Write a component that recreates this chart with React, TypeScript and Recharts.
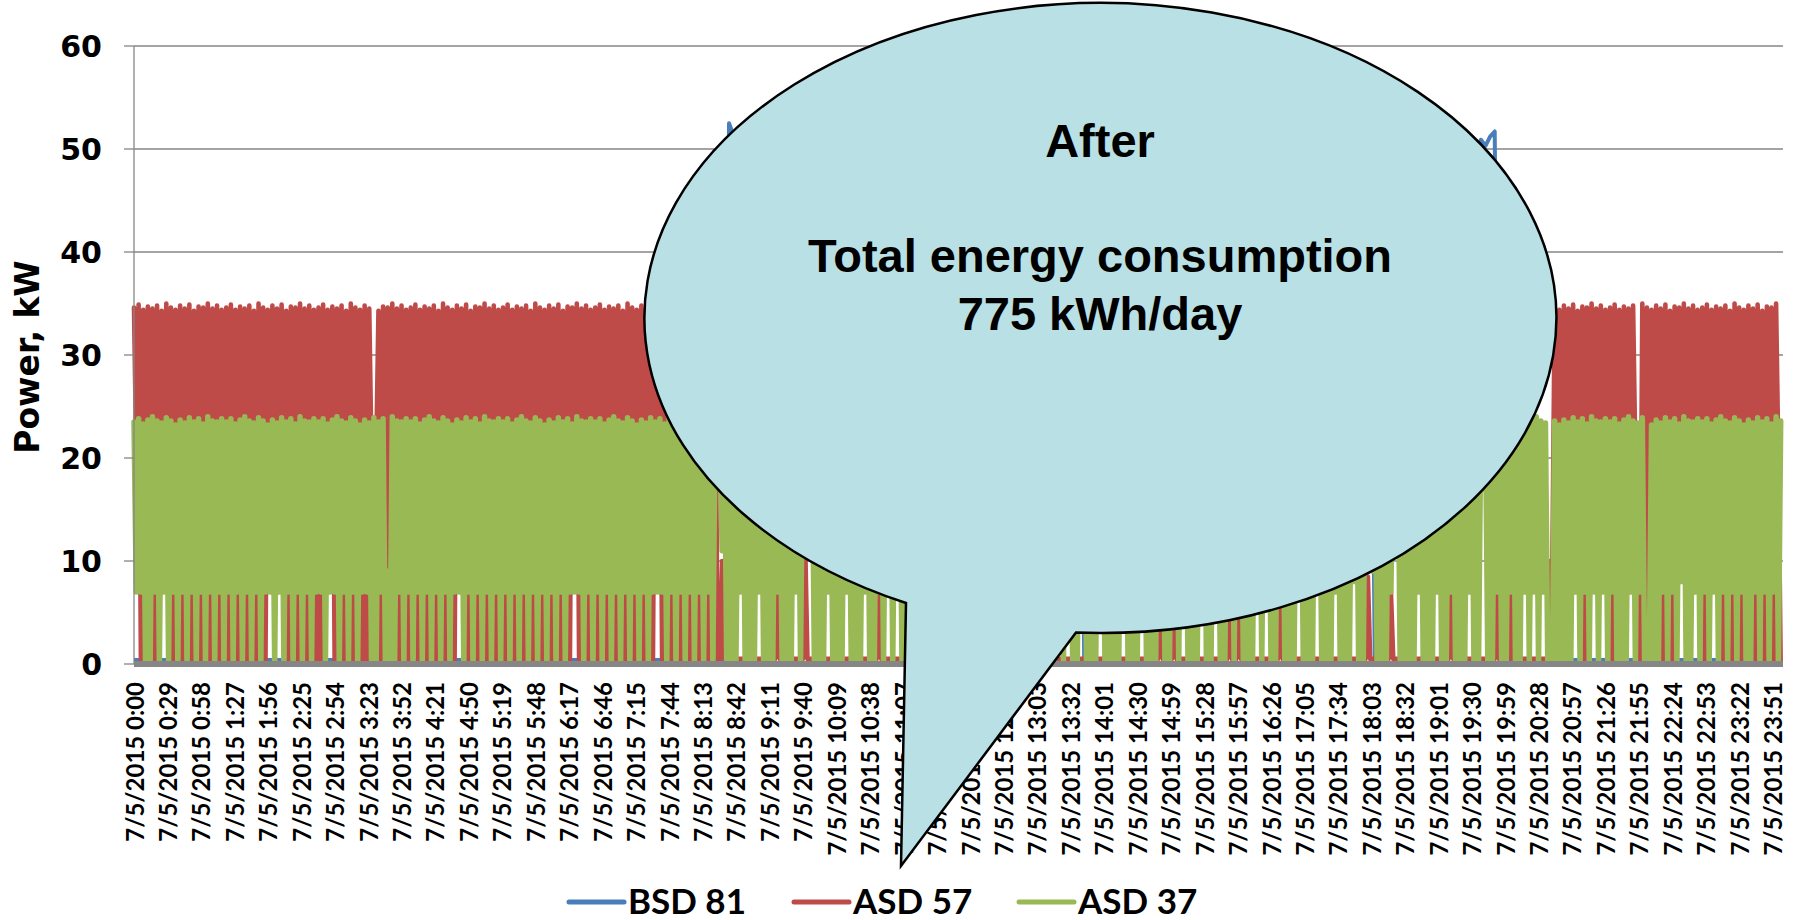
import React from "react";
import { LineChart, Line, XAxis, YAxis, CartesianGrid } from "recharts";

// one reading per category; labels every 29th reading
const DATE_LABEL = "7/5/2015";
const TICK_TIMES = [
  "0:00", "0:29", "0:58", "1:27", "1:56", "2:25", "2:54", "3:23", "3:52", "4:21",
  "4:50", "5:19", "5:48", "6:17", "6:46", "7:15", "7:44", "8:13", "8:42", "9:11",
  "9:40", "10:09", "10:38", "11:07", "11:36", "12:05", "12:34", "13:03", "13:32", "14:01",
  "14:30", "14:59", "15:28", "15:57", "16:26", "17:05", "17:34", "18:03", "18:32", "19:01",
  "19:30", "19:59", "20:28", "20:57", "21:26", "21:55", "22:24", "22:53", "23:22", "23:51",
];
const TICK_STEP = 29;
const LAST_INDEX = 1430;
const Y_TICKS = [0, 10, 20, 30, 40, 50, 60];

// ASD 37 / ASD 57 sampled every 2nd reading
const READING_STEP = 2;
const ASD37 = [
  23.5,7,23.8,7,23.3,0,23.7,0,24,7,23.6,0,23.4,7,23.9,0,23.6,7,23.2,0,
  23.7,7,23.4,0,23.9,7,23.5,0,23.8,7,23.3,0,24,7,23.6,0,23.5,7,23.8,0,
  23.5,7,23.8,0,23.3,7,23.7,0,24,7,23.6,0,23.4,7,23.9,0,23.6,7,23.2,7,
  23.7,0,23.4,7,23.9,0,23.5,7,23.8,0,23.3,7,24,0,23.6,7,23.5,0,23.8,7,
  23.5,7,23.8,0,23.3,7,23.7,7,24,0,23.6,7,23.4,0,23.9,7,23.6,0,23.2,7,
  23.7,7,23.4,0,23.9,0,23.5,7,23.8,0,9,0,24,0,23.6,7,23.5,0,23.8,7,
  23.5,0,23.8,7,23.3,0,23.7,7,24,0,23.6,7,23.4,0,23.9,7,23.6,0,23.2,7,
  23.7,7,23.4,0,23.9,7,23.5,0,23.8,7,23.3,0,24,7,23.6,0,23.5,7,23.8,0,
  23.5,7,23.8,0,23.3,7,23.7,0,24,7,23.6,0,23.4,7,23.9,0,23.6,7,23.2,0,
  23.7,7,23.4,0,23.9,7,23.5,0,23.8,7,23.3,7,24,7,23.6,0,23.5,7,23.8,0,
  23.5,7,23.8,0,23.3,7,23.7,0,24,7,23.6,0,23.4,7,23.9,0,23.6,7,23.2,0,
  23.7,7,23.4,0,23.9,7,23.5,7,23.8,7,23.3,0,24,7,23.6,0,23.5,7,23.8,0,
  23.5,7,23.8,0,23.3,7,23.7,0,24,7,23.6,0,23.4,21,23.9,11,23.6,0,23.2,0,
  23.7,0,23.4,7,23.9,0,23.5,0,23.8,0,23.3,7,24,0,23.6,0,23.5,0,23.8,7,
  23.5,0,23.8,0,23.3,0,23.7,7,24,0,23.6,13,23.4,13,23.9,0,23.6,0,23.2,0,
  23.7,7,23.4,0,23.9,0,23.5,0,23.8,7,23.3,0,24,0,23.6,0,23.5,7,23.8,0,
  23.5,0,23.8,7,23.3,0,23.7,7,24,0,23.6,7,23.4,0,23.9,0,23.6,0,23.2,0,
  23.7,0,23.4,0,23.9,0,23.5,0,23.8,0,23.3,0,24,0,23.6,0,23.5,0,23.8,0,
  23.5,0,23.8,0,23.3,0,23.7,0,24,0,23.6,0,23.4,0,23.9,0,23.6,0,23.2,0,
  23.7,0,23.4,0,23.9,0,23.5,0,23.8,0,23.3,0,24,0,23.6,0,23.5,0,23.8,0,
  23.5,7,23.8,0,23.3,7,23.7,0,24,0,23.6,4,23.4,0,23.9,0,23.6,0,23.2,7,
  23.7,0,23.4,0,23.9,0,23.5,0,23.8,7,23.3,0,24,0,23.6,0,23.5,7,23.8,0,
  23.5,0,23.8,0,23.3,7,23.7,0,24,0,23.6,7,23.4,0,23.9,7,23.6,0,23.2,0,
  23.7,0,23.4,7,23.9,0,23.5,0,23.8,7,23.3,0,24,0,23.6,7,23.5,0,23.8,5,
  23.5,0,23.8,0,23.3,0,23.7,7,24,0,23.6,7,23.4,0,23.9,0,23.6,7,23.2,0,
  23.7,0,23.4,0,23.9,7,23.5,0,23.8,0,23.3,0,24,9,23.6,0,23.5,0,23.8,0,
  23.5,7,23.8,0,23.3,0,23.7,0,24,8,23.6,0,23.4,0,23.9,9,23.6,9,23.2,0,
  23.7,0,23.4,0,23.9,7,23.5,12,23.8,0,23.3,0,24,0,23.6,0,23.5,7,23.8,0,
  23.5,0,23.8,0,23.3,7,23.7,0,24,0,23.6,7,23.4,0,23.9,0,23.6,0,23.2,7,
  23.7,0,23.4,0,23.9,17,23.5,0,23.8,0,23.3,7,24,0,23.6,0,23.5,7,23.8,0,
  23.5,0,23.8,7,23.3,0,23.7,7,24,0,23.6,7,23.4,0,0,0,23.6,0,23.2,0,
  23.7,0,23.4,0,23.9,7,23.5,0,23.8,7,23.3,0,24,7,23.6,0,23.5,7,23.8,0,
  23.5,7,23.8,0,23.3,0,23.7,0,24,7,23.6,0,23.4,7,23.9,0,0,0,23.2,0,
  23.7,0,23.4,7,23.9,0,23.5,7,23.8,0,23.3,8,24,0,23.6,0,23.5,7,23.8,0,
  23.5,7,23.8,0,23.3,7,23.7,0,24,7,23.6,0,23.4,7,23.9,0,23.6,7,23.2,0,
  23.7,0,23.4,7,23.9,0,23.5,7,23.8,0,23.3,7,24,0,23.6,
];
const ASD57 = [
  34.6,20,34.9,0,34.4,20,34.7,20,34.5,0,34.8,20,34.3,20,35,20,34.6,0,34.4,20,
  34.8,0,34.5,20,34.9,0,34.3,20,34.7,0,34.6,20,35,0,34.5,20,34.8,0,34.4,20,
  34.6,0,34.9,20,34.4,0,34.7,20,34.5,0,34.8,20,34.3,0,35,20,34.6,0,34.4,20,
  34.8,20,34.5,20,34.9,20,34.3,0,34.7,20,34.6,0,35,20,34.5,0,34.8,20,34.4,0,
  34.6,0,34.9,20,34.4,20,34.7,0,34.5,20,34.8,0,34.3,20,35,0,34.6,20,34.4,0,
  34.8,0,34.5,20,22,20,34.3,0,34.7,9,34.6,9,35,20,34.5,0,34.8,20,34.4,0,
  34.6,20,34.9,0,34.4,20,34.7,0,34.5,20,34.8,0,34.3,20,35,0,34.6,20,34.4,0,
  34.8,20,34.5,20,34.9,0,34.3,20,34.7,0,34.6,20,35,0,34.5,20,34.8,0,34.4,20,
  34.6,0,34.9,20,34.4,0,34.7,20,34.5,0,34.8,20,34.3,0,35,20,34.6,0,34.4,20,
  34.8,0,34.5,20,34.9,0,34.3,20,34.7,0,34.6,20,35,0,34.5,20,34.8,0,34.4,20,
  34.6,0,34.9,20,34.4,0,34.7,20,34.5,0,34.8,20,34.3,0,35,20,34.6,0,34.4,20,
  34.8,0,34.5,20,34.9,0,34.3,20,34.7,0,34.6,20,35,0,34.5,20,34.8,0,34.4,20,
  34.6,0,34.9,20,34.4,0,34.7,20,34.5,0,34.8,20,34.3,.5,.5,10,.5,.5,.5,.5,
  .5,.5,.5,.5,.5,.5,.5,.5,.5,.5,.5,.5,.5,.5,.5,.5,.5,.5,.5,7,
  .5,.5,.5,.5,.5,.5,.5,.5,.5,.5,.5,12,.5,.5,.5,.5,.5,.5,.5,.5,
  .5,.5,.5,.5,.5,.5,.5,.5,.5,.5,.5,.5,.5,.5,.5,.5,.5,.5,.5,.5,
  .5,.5,.5,7,.5,.5,.5,.5,.5,.5,.5,.5,.5,.5,.5,.5,.5,.5,.5,.5,
  .5,.5,.5,.5,.5,.5,.5,.5,.5,.5,.5,.5,.5,.5,.5,.5,.5,.5,.5,.5,
  .5,.5,.5,.5,.5,.5,.5,.5,.5,.5,.5,.5,.5,.5,.5,.5,.5,.5,.5,.5,
  .5,.5,.5,.5,.5,.5,.5,.5,.5,.5,.5,.5,.5,.5,.5,.5,.5,.5,.5,.5,
  .5,.5,.5,.5,.5,.5,.5,.5,.5,.5,.5,.5,.5,.5,.5,.5,.5,.5,.5,.5,
  .5,.5,.5,.5,.5,.5,.5,.5,.5,.5,.5,.5,.5,.5,.5,.5,.5,.5,.5,.5,
  .5,.5,.5,.5,.5,7,.5,.5,.5,.5,.5,7,.5,.5,.5,.5,.5,.5,.5,.5,
  .5,.5,.5,.5,.5,.5,.5,.5,.5,.5,.5,.5,.5,.5,.5,7,.5,.5,.5,5,
  .5,.5,.5,.5,.5,.5,.5,.5,.5,.5,.5,.5,.5,.5,.5,.5,.5,7,.5,.5,
  .5,.5,.5,.5,.5,.5,.5,.5,.5,.5,.5,.5,.5,.5,.5,.5,.5,.5,.5,.5,
  .5,.5,.5,.5,.5,.5,.5,.5,.5,.5,.5,.5,.5,.5,.5,8.5,.5,.5,.5,.5,
  .5,.5,.5,.5,.5,7,.5,.5,.5,.5,.5,.5,.5,.5,.5,.5,.5,.5,.5,.5,
  .5,.5,.5,.5,.5,.5,.5,.5,.5,.5,.5,7,.5,.5,.5,.5,.5,.5,.5,.5,
  .5,.5,.5,.5,.5,.5,.5,.5,.5,.5,.5,7,.5,.5,.5,.5,.5,7,.5,.5,
  .5,.5,.5,.5,.5,.5,.5,.5,.5,.5,.5,.5,.5,.5,10,10,34.6,20,34.4,20,
  34.8,20,34.5,20,34.9,20,34.3,20,34.7,0,34.6,20,35,20,34.5,20,34.8,20,34.4,20,
  34.6,0,34.9,20,34.4,20,34.7,20,34.5,20,34.8,20,22,0,35,0,34.6,0,34.4,20,
  34.8,20,34.5,0,34.9,20,34.3,0,34.7,20,34.6,20,35,20,34.5,20,34.8,20,34.4,20,
  34.6,0,34.9,20,34.4,20,34.7,20,34.5,0,34.8,20,34.3,0,35,20,34.6,0,34.4,20,
  34.8,20,34.5,0,34.9,20,34.3,0,34.7,20,34.6,0,35,20,0,
];

// BSD 81 sampled every 4th reading
const BLUE_STEP = 4;
const BSD81 = [
  .4,.4,.4,.4,.4,.4,.4,.4,.4,.4,.4,.4,.4,.4,.4,.4,.4,.4,.4,.4,
  .4,.4,.4,.4,.4,.4,.4,.4,.4,.4,.4,.4,.4,.4,.4,.4,.4,.4,.4,.4,
  .4,.4,.4,.4,.4,.4,.4,.4,.4,.4,.4,.4,.4,.4,.4,.4,.4,.4,.4,.4,
  .4,.4,.4,.4,.4,.4,.4,.4,.4,.4,.4,.4,.4,.4,.4,.4,.4,.4,.4,.4,
  .4,.4,.4,.4,.4,.4,.4,.4,.4,.4,.4,.4,.4,.4,.4,.4,.4,.4,.4,.4,
  .4,.4,.4,.4,.4,.4,.4,.4,.4,.4,.4,.4,.4,.4,.4,.4,.4,.4,.4,.4,
  .4,.4,.4,.4,.4,.4,.4,.4,.4,52.5,51.3,50.6,50.2,50,50,50,50,50,50,50,
  50,50,50,50,50,50,50,50,50,50,50,50,50,50,50,50,50,50,50,50,
  50,50,50,50,50,50,50,50,50,50,50,50,50,50,50,50,50,50,50,50,
  50,50,50,50,50,50,50,50,50,50,50,50,50,50,50,50,50,50,50,50,
  50,50,50,50,50,50,0,50,50,50,50,50,50,50,50,50,50,50,50,50,
  50,50,50,50,50,50,50,50,50,50,50,50,50,50,50,50,50,50,50,50,
  50,50,50,50,50,50,50,50,50,50,50,50,50,50,50,50,50,50,50,50,
  50,50,50,50,50,50,50,50,50,0,50,50,50,50,50,50,50,50,50,50,
  50,50,50,50,50,50,50,50,50,50,50.5,49.8,50.9,50.3,51.2,51.7,.4,.4,.4,.4,
  .4,.4,.4,.4,.4,.4,.4,.4,.4,.4,.4,.4,.4,.4,.4,.4,.4,.4,.4,.4,
  .4,.4,.4,.4,.4,.4,.4,.4,.4,.4,.4,.4,.4,.4,.4,.4,.4,.4,.4,.4,
  .4,.4,.4,.4,.4,.4,.4,.4,.4,.4,.4,.4,.4,.4,.4,.4,.4,.4,
];

const SERIES = [
  { name: "BSD 81", color: "#4A7EBB" },
  { name: "ASD 57", color: "#BE4B48" },
  { name: "ASD 37", color: "#98B954" },
];

const CALLOUT_LINES = ["After", "", "Total energy consumption", "775 kWh/day"];

const rows = ASD37.map((g, i) => ({ idx: i * READING_STEP, asd57: ASD57[i], asd37: g }));
const blueRows = BSD81.map((b, j) => ({ idx: j * BLUE_STEP, bsd81: b }));
const xTicks = TICK_TIMES.map((_, k) => k * TICK_STEP);

const GRID = "#868686";

function TimeTick({ x, y, payload }: any) {
  const t = TICK_TIMES[Math.round(payload.value / TICK_STEP)];
  return (
    <text
      x={x}
      y={y}
      transform={`rotate(-90 ${x} ${y})`}
      textAnchor="end"
      dominantBaseline="central"
      fontFamily="Lato, sans-serif"
      fontWeight={700}
      fontSize={24}
      fill="#000"
    >
      {`${DATE_LABEL} ${t}`}
    </text>
  );
}

function PowerTick({ x, y, payload }: any) {
  return (
    <text
      x={x}
      y={y}
      textAnchor="end"
      dominantBaseline="central"
      fontFamily="DejaVu Sans, sans-serif"
      fontWeight={700}
      fontSize={30}
      fill="#000"
    >
      {payload.value}
    </text>
  );
}

// oval callout: ellipse with a wedge pointing down
const CX = 1100, RX = 456, RY = 315;
const bubblePath = `M 1076 632.6 L 901 866 L 906 603 A ${RX} ${RY} 0 1 1 1076 632.6 Z`;

export default function App() {
  return (
    <div style={{ position: "absolute", left: 0, top: 0, width: 1796, height: 920, background: "#fff" }}>
      <LineChart width={1796} height={920} data={rows} margin={{ top: 46, right: 13, bottom: 0, left: 0 }}>
        <CartesianGrid vertical={false} stroke={GRID} strokeWidth={1.3} />
        <XAxis
          dataKey="idx"
          type="number"
          domain={[0, LAST_INDEX]}
          ticks={xTicks}
          interval={0}
          height={256}
          tickLine={false}
          tickSize={6}
          tickMargin={12}
          axisLine={{ stroke: GRID, strokeWidth: 6 }}
          tick={<TimeTick />}
        />
        <YAxis
          type="number"
          domain={[0, 60]}
          ticks={Y_TICKS}
          width={134}
          tickSize={10}
          tickMargin={22}
          axisLine={{ stroke: GRID, strokeWidth: 1.3 }}
          tickLine={{ stroke: GRID, strokeWidth: 1.3 }}
          tick={<PowerTick />}
        />
        <Line
          data={blueRows}
          dataKey="bsd81"
          name="BSD 81"
          type="linear"
          stroke={SERIES[0].color}
          strokeWidth={4}
          strokeLinejoin="round"
          dot={false}
          activeDot={false}
          isAnimationActive={false}
        />
        <Line
          dataKey="asd57"
          name="ASD 57"
          type="linear"
          stroke={SERIES[1].color}
          strokeWidth={4.6}
          strokeLinejoin="round"
          strokeLinecap="round"
          dot={false}
          activeDot={false}
          isAnimationActive={false}
        />
        <Line
          dataKey="asd37"
          name="ASD 37"
          type="linear"
          stroke={SERIES[2].color}
          strokeWidth={5.5}
          strokeLinejoin="round"
          strokeLinecap="round"
          dot={false}
          activeDot={false}
          isAnimationActive={false}
        />
      </LineChart>

      <svg width={1796} height={920} style={{ position: "absolute", left: 0, top: 0, pointerEvents: "none" }}>
        <text
          transform="translate(27 357) rotate(-90)"
          textAnchor="middle"
          dominantBaseline="central"
          fontFamily="DejaVu Sans, sans-serif"
          fontWeight={700}
          fontSize={33}
          fill="#000"
        >
          Power, kW
        </text>

        <path d={bubblePath} fill="#B9E0E4" stroke="#000" strokeWidth={2.5} />
        {CALLOUT_LINES.map((line, i) => (
          <text
            key={i}
            x={CX}
            y={157 + i * 57.5}
            textAnchor="middle"
            fontFamily="Liberation Sans, Arial, sans-serif"
            fontWeight={700}
            fontSize={47}
            fill="#000"
          >
            {line}
          </text>
        ))}

        {SERIES.map((s, i) => {
          const x0 = 569 + i * 225;
          return (
            <g key={s.name}>
              <line x1={x0} y1={902} x2={x0 + 55} y2={902} stroke={s.color} strokeWidth={5} strokeLinecap="round" />
              <text x={x0 + 59} y={914} fontFamily="Lato, sans-serif" fontWeight={700} fontSize={35} fill="#000">
                {s.name}
              </text>
            </g>
          );
        })}
      </svg>
    </div>
  );
}
